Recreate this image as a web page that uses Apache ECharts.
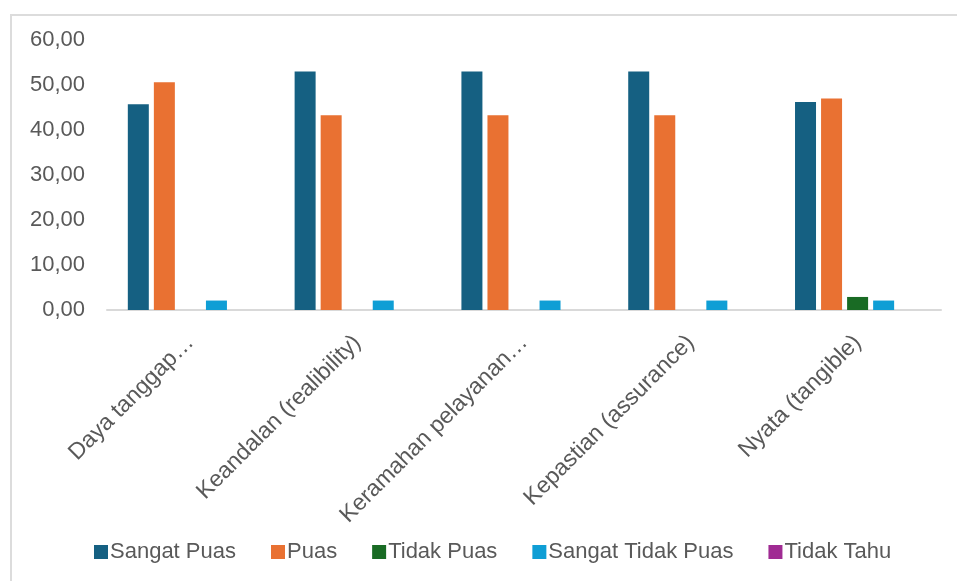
<!DOCTYPE html>
<html>
<head>
<meta charset="utf-8">
<script src="https://cdn.jsdelivr.net/npm/echarts@6/dist/echarts.min.js"></script>
<style>
  html, body { margin: 0; padding: 0; background: #fff; overflow: hidden; }
  #frame { position: absolute; left: 10px; top: 14px; width: 1200px; height: 1000px; border: 2px solid #dcdcdc; box-sizing: border-box; }
  #chart { position: absolute; left: 0; top: 0; width: 957px; height: 581px; }
</style>
</head>
<body>
<div id="frame"></div>
<div id="chart"></div>
<script>
const categories = ["Daya tanggap…", "Keandalan (realibility)", "Keramahan pelayanan…", "Kepastian (assurance)", "Nyata (tangible)"];
const seriesNames = ["Sangat Puas", "Puas", "Tidak Puas", "Sangat Tidak Puas", "Tidak Tahu"];
const sangatPuas = [45.7, 53.0, 53.0, 53.0, 46.2];
const puas = [50.6, 43.3, 43.3, 43.3, 47.0];
const tidakPuas = [0, 0, 0, 0, 2.9];
const sangatTidakPuas = [2.1, 2.1, 2.1, 2.1, 2.1];
const tidakTahu = [0, 0, 0, 0, 0];
const colors = ["#156082", "#E97132", "#196B24", "#0F9ED5", "#A02B93"];

const dataSets = [sangatPuas, puas, tidakPuas, sangatTidakPuas, tidakTahu];
const font = "'Liberation Sans', Arial, sans-serif";
const textColor = "#595959";

const chart = echarts.init(document.getElementById('chart'), null, { renderer: 'canvas' });
chart.setOption({
  backgroundColor: 'transparent',
  color: colors,
  animation: false,
  textStyle: { fontFamily: font, color: textColor },
  grid: { left: 107, right: 16, top: 40, bottom: 271, containLabel: false },
  legend: {
    data: seriesNames,
    left: 89,
    top: 536,
    itemWidth: 14,
    itemHeight: 14,
    itemGap: 35,
    icon: 'rect',
    textStyle: { fontFamily: font, fontSize: 22, color: textColor, padding: [0, 0, 0, -3] }
  },
  xAxis: {
    type: 'category',
    data: categories,
    axisLine: { show: true, lineStyle: { color: '#d9d9d9', width: 2 } },
    axisTick: { show: false },
    axisLabel: {
      rotate: 45,
      interval: 0,
      margin: 29,
      fontFamily: font,
      fontSize: 23,
      color: textColor
    }
  },
  yAxis: {
    type: 'value',
    min: 0,
    max: 60,
    interval: 10,
    axisLine: { show: false },
    axisTick: { show: false },
    splitLine: { show: false },
    axisLabel: {
      margin: 22,
      fontFamily: font,
      fontSize: 22,
      color: textColor,
      formatter: v => v.toFixed(2).replace('.', ',')
    }
  },
  series: seriesNames.map((name, i) => ({
    name: name,
    type: 'bar',
    data: dataSets[i],
    barWidth: 21,
    barGap: '24%',
    itemStyle: { color: colors[i] }
  }))
});
</script>
</body>
</html>
